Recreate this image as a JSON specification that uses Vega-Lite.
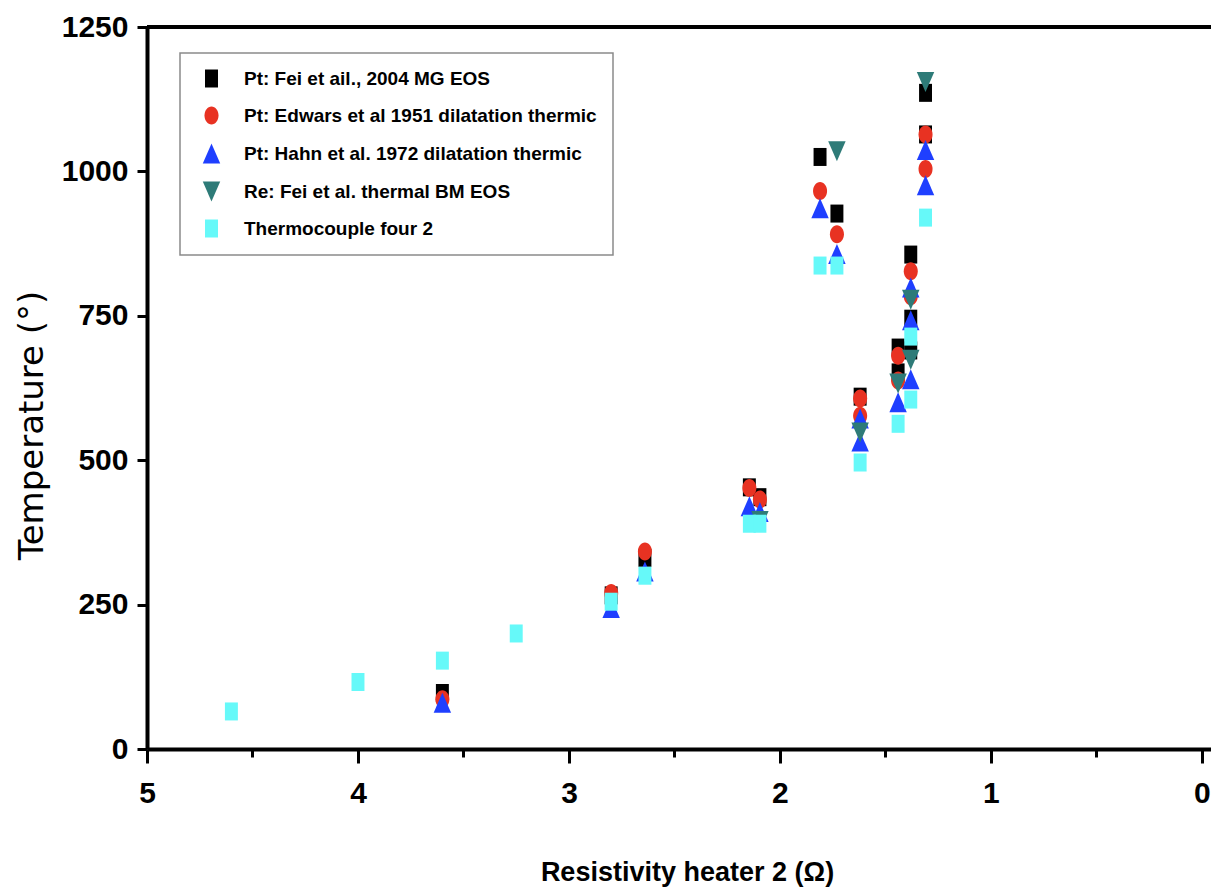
{
  "$schema": "https://vega.github.io/schema/vega-lite/v6.json",
  "width": 1064,
  "height": 722,
  "autosize": {"type": "none"},
  "padding": {"left": 147, "top": 27, "right": 0, "bottom": 141},
  "background": "white",
  "config": {
    "view": {"stroke": null},
    "font": "Liberation Sans",
    "legend": {
      "strokeColor": "#8a8a8a",
      "strokeWidth": 1.5,
      "fillColor": "white",
      "padding": 16,
      "labelFont": "Liberation Sans",
      "labelFontSize": 19,
      "labelFontWeight": "bold",
      "labelColor": "black",
      "labelLimit": 600,
      "symbolSize": 324,
      "symbolStrokeWidth": 0,
      "rowPadding": 17,
      "labelOffset": 23,
      "symbolOffset": 6
    }
  },
  "layer": [
    {
      "data": {
        "values": [
          {"s": "Pt: Fei et ail., 2004 MG EOS", "r": 3.6, "t": 97},
          {"s": "Pt: Fei et ail., 2004 MG EOS", "r": 2.8, "t": 266},
          {"s": "Pt: Fei et ail., 2004 MG EOS", "r": 2.64, "t": 331},
          {"s": "Pt: Fei et ail., 2004 MG EOS", "r": 2.145, "t": 453},
          {"s": "Pt: Fei et ail., 2004 MG EOS", "r": 2.095, "t": 436},
          {"s": "Pt: Fei et ail., 2004 MG EOS", "r": 1.81, "t": 1025},
          {"s": "Pt: Fei et ail., 2004 MG EOS", "r": 1.73, "t": 927},
          {"s": "Pt: Fei et ail., 2004 MG EOS", "r": 1.62, "t": 610},
          {"s": "Pt: Fei et ail., 2004 MG EOS", "r": 1.44, "t": 695},
          {"s": "Pt: Fei et ail., 2004 MG EOS", "r": 1.44, "t": 652},
          {"s": "Pt: Fei et ail., 2004 MG EOS", "r": 1.38, "t": 856},
          {"s": "Pt: Fei et ail., 2004 MG EOS", "r": 1.38, "t": 745},
          {"s": "Pt: Fei et ail., 2004 MG EOS", "r": 1.38, "t": 690},
          {"s": "Pt: Fei et ail., 2004 MG EOS", "r": 1.31, "t": 1136},
          {"s": "Pt: Fei et ail., 2004 MG EOS", "r": 1.31, "t": 1064},
          {"s": "Pt: Edwars et al 1951 dilatation thermic", "r": 3.6, "t": 86},
          {"s": "Pt: Edwars et al 1951 dilatation thermic", "r": 2.8, "t": 270},
          {"s": "Pt: Edwars et al 1951 dilatation thermic", "r": 2.64, "t": 342},
          {"s": "Pt: Edwars et al 1951 dilatation thermic", "r": 2.145, "t": 452},
          {"s": "Pt: Edwars et al 1951 dilatation thermic", "r": 2.095, "t": 432},
          {"s": "Pt: Edwars et al 1951 dilatation thermic", "r": 1.81, "t": 966},
          {"s": "Pt: Edwars et al 1951 dilatation thermic", "r": 1.73, "t": 891},
          {"s": "Pt: Edwars et al 1951 dilatation thermic", "r": 1.62, "t": 607},
          {"s": "Pt: Edwars et al 1951 dilatation thermic", "r": 1.62, "t": 577},
          {"s": "Pt: Edwars et al 1951 dilatation thermic", "r": 1.44, "t": 681},
          {"s": "Pt: Edwars et al 1951 dilatation thermic", "r": 1.44, "t": 638},
          {"s": "Pt: Edwars et al 1951 dilatation thermic", "r": 1.38, "t": 827},
          {"s": "Pt: Edwars et al 1951 dilatation thermic", "r": 1.38, "t": 784},
          {"s": "Pt: Edwars et al 1951 dilatation thermic", "r": 1.31, "t": 1064},
          {"s": "Pt: Edwars et al 1951 dilatation thermic", "r": 1.31, "t": 1004},
          {"s": "Pt: Hahn et al. 1972 dilatation thermic", "r": 3.6, "t": 80},
          {"s": "Pt: Hahn et al. 1972 dilatation thermic", "r": 2.8, "t": 244},
          {"s": "Pt: Hahn et al. 1972 dilatation thermic", "r": 2.64, "t": 307},
          {"s": "Pt: Hahn et al. 1972 dilatation thermic", "r": 2.145, "t": 420},
          {"s": "Pt: Hahn et al. 1972 dilatation thermic", "r": 2.095, "t": 410},
          {"s": "Pt: Hahn et al. 1972 dilatation thermic", "r": 1.81, "t": 936},
          {"s": "Pt: Hahn et al. 1972 dilatation thermic", "r": 1.73, "t": 857},
          {"s": "Pt: Hahn et al. 1972 dilatation thermic", "r": 1.62, "t": 572},
          {"s": "Pt: Hahn et al. 1972 dilatation thermic", "r": 1.62, "t": 532},
          {"s": "Pt: Hahn et al. 1972 dilatation thermic", "r": 1.44, "t": 600},
          {"s": "Pt: Hahn et al. 1972 dilatation thermic", "r": 1.38, "t": 799},
          {"s": "Pt: Hahn et al. 1972 dilatation thermic", "r": 1.38, "t": 742},
          {"s": "Pt: Hahn et al. 1972 dilatation thermic", "r": 1.38, "t": 640},
          {"s": "Pt: Hahn et al. 1972 dilatation thermic", "r": 1.31, "t": 1037},
          {"s": "Pt: Hahn et al. 1972 dilatation thermic", "r": 1.31, "t": 976},
          {"s": "Re: Fei et al. thermal BM EOS", "r": 2.095, "t": 395},
          {"s": "Re: Fei et al. thermal BM EOS", "r": 1.73, "t": 1035},
          {"s": "Re: Fei et al. thermal BM EOS", "r": 1.62, "t": 548},
          {"s": "Re: Fei et al. thermal BM EOS", "r": 1.44, "t": 633},
          {"s": "Re: Fei et al. thermal BM EOS", "r": 1.38, "t": 778},
          {"s": "Re: Fei et al. thermal BM EOS", "r": 1.38, "t": 674},
          {"s": "Re: Fei et al. thermal BM EOS", "r": 1.31, "t": 1155},
          {"s": "Thermocouple four 2", "r": 4.6, "t": 65},
          {"s": "Thermocouple four 2", "r": 4.0, "t": 116},
          {"s": "Thermocouple four 2", "r": 3.6, "t": 153},
          {"s": "Thermocouple four 2", "r": 3.25, "t": 200},
          {"s": "Thermocouple four 2", "r": 2.8, "t": 255},
          {"s": "Thermocouple four 2", "r": 2.64, "t": 300},
          {"s": "Thermocouple four 2", "r": 2.145, "t": 390},
          {"s": "Thermocouple four 2", "r": 2.095, "t": 390},
          {"s": "Thermocouple four 2", "r": 1.81, "t": 837},
          {"s": "Thermocouple four 2", "r": 1.73, "t": 837},
          {"s": "Thermocouple four 2", "r": 1.62, "t": 496},
          {"s": "Thermocouple four 2", "r": 1.44, "t": 563},
          {"s": "Thermocouple four 2", "r": 1.38, "t": 714},
          {"s": "Thermocouple four 2", "r": 1.38, "t": 605},
          {"s": "Thermocouple four 2", "r": 1.31, "t": 920}
        ]
      },
      "mark": {"type": "point", "filled": true, "opacity": 1, "size": 324, "strokeWidth": 0},
      "encoding": {
        "x": {
          "field": "r",
          "type": "quantitative",
          "scale": {"domain": [5, -0.043], "nice": false, "zero": false},
          "axis": {
            "title": "Resistivity heater 2 (Ω)",
            "values": [0, 0.5, 1, 1.5, 2, 2.5, 3, 3.5, 4, 4.5, 5],
            "labelExpr": "datum.value % 1 === 0 ? format(datum.value, 'd') : ''",
            "tickSize": {"condition": {"test": "datum.value % 1 !== 0", "value": 8}, "value": 14},
            "grid": false,
            "domainColor": "black",
            "domainWidth": 4,
            "tickColor": "black",
            "tickWidth": 3,
            "labelFont": "Liberation Sans",
            "labelFontSize": 30,
            "labelFontWeight": "bold",
            "labelColor": "black",
            "labelPadding": 15,
            "labelFlush": false,
            "labelOverlap": false,
            "titleFont": "Liberation Sans",
            "titleFontSize": 27,
            "titleFontWeight": "bold",
            "titleColor": "black",
            "titleX": 540,
            "titleY": 131,
            "titleBaseline": "alphabetic",
            "titleAlign": "center"
          }
        },
        "y": {
          "field": "t",
          "type": "quantitative",
          "scale": {"domain": [0, 1250], "nice": false},
          "axis": {
            "title": "Temperature (°)",
            "values": [0, 250, 500, 750, 1000, 1250],
            "format": "d",
            "grid": false,
            "domainColor": "black",
            "domainWidth": 4,
            "tickColor": "black",
            "tickWidth": 3,
            "tickSize": 10,
            "labelFont": "Liberation Sans",
            "labelFontSize": 30,
            "labelFontWeight": "bold",
            "labelColor": "black",
            "labelPadding": 9,
            "titleFont": "DejaVu Sans",
            "titleFontSize": 34,
            "titleFontWeight": "normal",
            "titleColor": "black",
            "titleAngle": 270,
            "titleX": -105,
            "titleY": 398,
            "titleBaseline": "alphabetic",
            "titleAlign": "center"
          }
        },
        "color": {
          "field": "s",
          "type": "nominal",
          "scale": {
            "domain": ["Pt: Fei et ail., 2004 MG EOS", "Pt: Edwars et al 1951 dilatation thermic", "Pt: Hahn et al. 1972 dilatation thermic", "Re: Fei et al. thermal BM EOS", "Thermocouple four 2"],
            "range": ["#000000", "#e83222", "#1f3fff", "#2e7b78", "#66f9f9"]
          },
          "legend": {"title": null, "orient": "none", "legendX": 33, "legendY": 26}
        },
        "shape": {
          "field": "s",
          "type": "nominal",
          "scale": {
            "domain": ["Pt: Fei et ail., 2004 MG EOS", "Pt: Edwars et al 1951 dilatation thermic", "Pt: Hahn et al. 1972 dilatation thermic", "Re: Fei et al. thermal BM EOS", "Thermocouple four 2"],
            "range": [
              "M-0.72,-1L0.72,-1L0.72,1L-0.72,1Z",
              "M-0.78,0A0.78,1,0,1,1,0.78,0A0.78,1,0,1,1,-0.78,0Z",
              "M0,-1.12L0.97,1.1L-0.97,1.1Z",
              "M0,1.12L0.97,-1.1L-0.97,-1.1Z",
              "M-0.72,-1L0.72,-1L0.72,1L-0.72,1Z"
            ]
          },
          "legend": {"title": null, "orient": "none", "legendX": 33, "legendY": 26}
        }
      }
    },
    {
      "data": {"values": [{}]},
      "mark": {"type": "rule", "color": "black", "strokeWidth": 4},
      "encoding": {"y": {"datum": 1250, "type": "quantitative"}}
    }
  ]
}
